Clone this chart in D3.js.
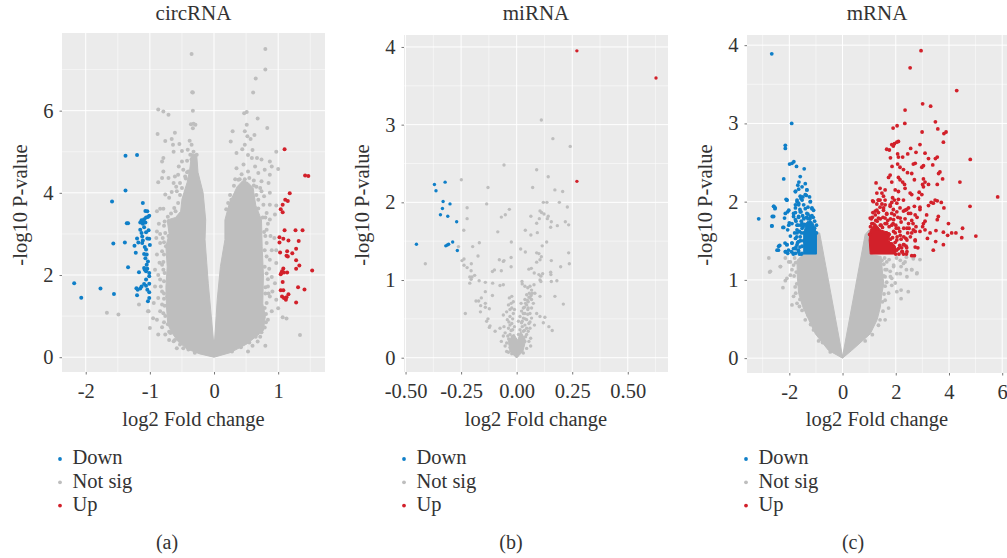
<!DOCTYPE html>
<html>
<head>
<meta charset="utf-8">
<script src="https://cdn.jsdelivr.net/npm/d3@7"></script>
<style>
body { margin: 0; background: #fff; }
svg text { font-family: "Liberation Serif", serif; fill: #333; }
</style>
</head>
<body>
<svg width="1007" height="558"></svg>
<script>
var legendLabels = ["Down", "Not sig", "Up"];

// all values, [log2 fold change, -log10 p]
// the solid grey/blue/red masses hold thousands of overlapping dots, they are kept as outlines
var circDown = [[-2.18,1.80],[-2.07,1.45],[-1.77,1.67],[-1.56,1.54],[-1.59,3.79],[-1.57,2.77],[-1.39,2.79],[-1.38,4.90],[-1.20,4.92],[-1.38,4.06],[-1.36,3.26],[-1.34,3.26],[-1.34,2.19],[-1.17,2.07],[-1.20,1.51],[-1.21,1.68],[-1.19,1.64],[-1.15,1.67],[-1.11,3.75],[-1.07,3.56],[-1.04,3.55],[-1.01,3.44],[-1.03,3.41],[-1.09,3.36],[-1.13,3.33],[-1.15,3.28],[-1.11,3.25],[-1.07,3.28],[-1.15,3.10],[-1.09,3.16],[-1.02,3.09],[-1.06,3.04],[-1.20,2.89],[-1.18,2.79],[-1.12,2.94],[-1.11,2.84],[-1.04,2.89],[-1.01,2.88],[-1.08,2.68],[-1.00,2.73],[-1.24,2.71],[-1.22,2.54],[-1.09,2.51],[-1.05,2.50],[-1.07,2.41],[-1.03,2.33],[-1.05,2.25],[-1.09,2.17],[-1.06,2.09],[-1.01,2.05],[-1.01,1.97],[-1.06,1.89],[-1.01,1.79],[-1.06,1.74],[-1.09,1.78],[-1.13,1.72],[-1.04,1.64],[-1.01,1.58],[-1.01,1.44],[-1.03,1.36],[-1.08,2.13],[-1.13,3.02],[-1.10,3.31],[-1.12,2.78],[-1.06,3.40],[-1.06,2.62],[-1.04,2.15]];
var circUp = [[1.10,5.06],[1.42,4.42],[1.47,4.41],[1.18,3.99],[1.11,3.83],[1.15,3.80],[1.07,3.71],[1.04,3.60],[1.07,3.53],[1.10,3.09],[1.27,3.09],[1.38,3.09],[1.02,2.92],[1.08,2.88],[1.16,2.84],[1.32,2.83],[1.02,2.79],[1.14,2.58],[1.28,2.64],[1.03,2.55],[1.13,2.47],[1.15,2.45],[1.22,2.53],[1.28,2.36],[1.33,2.23],[1.28,2.15],[1.53,2.11],[1.08,2.16],[1.06,2.09],[1.04,2.02],[1.09,2.06],[1.14,2.06],[1.07,1.83],[1.04,1.63],[1.08,1.63],[1.31,1.70],[1.41,1.65],[1.16,1.53],[1.06,1.48],[1.09,1.44],[1.12,1.40],[1.13,1.46],[1.28,1.33],[1.05,2.05]];
var circNotSig = [[-.35,7.38],[.80,7.50],[.80,7.00],[.65,6.78],[.61,6.44],[-.34,6.45],[-.33,6.44],[-.33,6.00],[-.87,6.03],[-.79,5.98],[-.71,5.90],[.51,5.97],[.47,5.94],[.68,5.81],[.83,5.58],[.29,5.50],[.51,5.66],[-.36,5.67],[-.32,5.68],[-.29,5.66],[-.33,5.57],[-.88,5.43],[-.61,5.46],[-.76,5.26],[-.66,5.31],[-.64,5.17],[-.54,5.19],[-.63,5.00],[-.50,5.02],[-.79,4.85],[-.81,4.76],[-.38,5.27],[-.35,5.17],[-.32,5.00],[-.37,4.93],[-.27,4.93],[-.50,4.76],[-.55,4.64],[-.48,4.56],[-.79,4.52],[-.71,4.36],[-.81,4.36],[-.87,4.26],[-.61,4.40],[-.63,4.24],[-.45,4.40],[-.40,4.52],[-.58,4.04],[-.76,3.96],[-.70,3.88],[-.53,4.24],[-.84,3.61],[-.79,3.61],[-.89,3.55],[-.62,3.63],[-.68,3.27],[-.78,3.20],[-.89,3.06],[-.84,3.00],[-.76,3.02],[-.71,2.95],[-.63,3.10],[-.59,4.15],[-.66,4.02],[-.56,4.44],[-.42,4.78],[-.35,4.82],[-.41,5.05],[-.30,4.68],
[.48,5.50],[.63,5.41],[.52,5.38],[.57,5.31],[.26,5.25],[.48,5.17],[.44,5.06],[.35,4.97],[.60,5.04],[.53,4.92],[.97,5.00],[.59,4.85],[.67,4.85],[.74,4.81],[.87,4.76],[.90,4.64],[1.00,4.58],[.46,4.69],[.35,4.60],[.53,4.52],[.64,4.64],[.69,4.48],[.79,4.56],[.87,4.44],[.38,4.32],[.33,4.33],[.55,4.36],[.74,4.28],[.85,4.24],[.74,4.04],[.87,4.00],[.69,3.83],[.77,3.71],[.87,3.71],[.97,3.69],[.22,3.75],[.27,3.83],[.82,3.51],[.87,3.35],[.82,3.10],[.95,3.47],[.43,4.45],[.62,4.30],[.72,4.12],[.78,3.92],[.66,4.15],[.80,3.40],[.84,3.25],
[-.92,2.13],[-.89,2.50],[-.81,2.58],[-.87,2.00],[-.84,1.89],[-.92,1.72],[-.81,1.60],[-.87,1.44],[-.81,1.28],[-.94,1.32],[-1.02,1.12],[-.95,.95],[-.89,.91],[-1.00,.71],[-.81,.73],[-.87,.55],[-.76,.55],[-.58,.22],[-.48,.22],[-.63,.39],[-.68,.59],[-.73,1.48],[-.79,1.07],[-.79,2.13],[-.79,2.32],[-.84,2.78],[-.81,2.25],[-.83,1.72],[-.78,1.85],[-.78,1.42],[-.84,1.12],[-.85,2.30],[-.90,2.90],[-.86,3.25],[-.75,2.70],[-.80,2.90],[-.72,.80],[-.78,.85],[-.70,.42],
[.82,2.78],[.90,2.60],[.97,2.60],[.87,2.37],[.97,2.29],[.82,2.04],[.95,1.80],[.84,1.72],[.87,1.48],[.97,1.40],[.82,1.32],[1.00,1.19],[.90,1.12],[.84,.91],[1.07,.97],[1.13,.94],[.80,.28],[.53,.14],[.86,2.15],[.90,1.95],[.82,2.45],[.85,1.55],[.81,1.05],[.91,1.60],[.88,2.95],[.94,2.90],[.80,2.95],[.84,1.90],[.79,.72],[.68,.38],[.72,.50],[.60,.28],[1.34,.54],[.80,1.55],
[-1.17,1.28],[-1.67,1.08],[-1.49,1.04],[-1.03,1.12],
[-.77,3.30],[-.72,3.42],[-.67,3.50],[-.60,3.55],[-.56,3.75],[-.53,3.95],[-.50,4.12],[-.44,4.35],[-.42,4.50],[-.78,2.50],[-.78,2.80],[-.77,2.05],[-.78,1.55],[-.76,1.00],[-.77,1.25],[-.70,.62],[-.61,.42],[-.53,.31],[-.40,.19],[-.30,.11],
[.28,.14],[.42,.24],[.55,.36],[.65,.50],[.74,.61],[.81,.85],[.79,1.20],[.80,1.70],[.79,2.20],[.79,2.60],[.78,3.05],[.76,3.40],[.69,3.62],[.66,3.95],[.62,4.18],[.48,4.33],[.40,4.33],[.31,4.17],[.25,3.95],[.19,3.60]];
var circMass = [[0,0],[-.22,.08],[-.42,.20],[-.56,.38],[-.66,.60],[-.72,.80],[-.74,1.20],[-.75,1.70],[-.73,2.20],[-.75,2.70],[-.70,3.00],[-.73,3.34],[-.60,3.40],[-.52,3.55],[-.50,3.85],[-.47,4.00],[-.42,4.25],[-.38,4.55],[-.35,4.95],[-.27,4.92],[-.25,4.50],[-.17,4.00],[-.13,3.34],[-.14,2.86],[-.09,1.80],[-.01,.43],[.01,.43],[.05,1.40],[.10,2.21],[.17,2.86],[.17,3.34],[.24,3.75],[.36,4.15],[.45,4.30],[.53,4.25],[.61,4.12],[.65,3.70],[.74,3.34],[.75,2.70],[.77,2.00],[.76,1.30],[.80,1.00],[.77,.65],[.51,.32],[.25,.11]];

var miDown = [[-.451,1.46],[-.370,2.23],[-.363,2.15],[-.322,2.26],[-.331,2.01],[-.300,1.98],[-.334,1.92],[-.343,1.84],[-.310,1.82],[-.270,1.75],[-.288,1.49],[-.319,1.44],[-.312,1.45],[-.306,1.46],[-.267,1.38]];
var miUp = [[.271,3.95],[.627,3.60],[.271,2.27]];
var miNotSig = [[-.411,1.21],[-.249,2.29],[-.129,2.19],[-.135,1.98],[-.223,1.93],[-.223,1.79],[-.238,1.64],[-.262,1.43],[-.057,2.48],[.090,2.42],[.111,3.06],[.163,2.82],[.241,2.72],[.142,2.33],[.072,2.19],[.172,2.16],[.207,2.14],[.192,2.00],[.120,2.00],[.136,2.00],[.228,1.94],[-.033,1.91],[-.069,1.81],[-.051,1.84],[-.085,1.62],[-.168,1.48],[-.198,1.43],[-.174,1.31],[-.237,1.27],[-.246,1.25],[-.237,1.19],[-.223,1.16],[-.204,1.21],[-.205,1.12],[-.189,1.06],[-.201,1.04],[-.211,1.04],[-.205,1.01],[-.211,.96],[-.169,.99],[-.141,.97],[-.108,.96],[-.075,.93],[-.060,.94],[-.109,.80],[-.141,.85],[-.171,.73],[-.183,.73],[-.159,.77],[-.162,.67],[-.141,.70],[-.141,.65],[-.163,.59],[-.123,.63],[-.129,.50],[-.135,.47],[-.120,.41],[-.123,.39],[-.097,.34],[-.231,.57],[-.024,1.49],[-.025,1.29],[-.025,1.17],[-.069,1.12],[-.057,1.25],[-.078,1.26],[-.060,1.24],[-.100,1.13],[-.109,1.11],[.018,1.40],[.039,1.36],[.090,1.35],[.100,1.34],[.111,1.30],[.105,1.26],[.090,1.23],[.156,1.25],[.135,1.49],[.115,1.44],[.234,1.35],[.237,1.21],[.198,1.17],[.153,1.10],[.154,1.07],[.156,.98],[.181,.99],[.172,.79],[.210,.69],[.109,1.05],[.117,1.08],[.100,1.07],[.105,1.00],[.109,.98],[.066,1.15],[.055,1.14],[.079,1.09],[.064,1.82],[.064,1.58],[.039,1.64],[.093,1.61],[.090,1.73],[.105,1.89],[.112,1.87],[.123,1.85],[.102,1.79],[.138,1.79],[.142,1.82],[.156,1.75],[.153,1.68],[.183,1.70],[.219,1.75],[.234,1.71],[.105,.79],[.127,.52],[.120,.45],[.145,.40],[.160,.35],[.024,.98],[.025,.95],[.037,.92],
[.06,.92],[.078,.94],[.067,.87],[.057,.83],[.045,.81],[.07,.83],[.06,.77],[.082,.83],[.037,.75],[.052,.72],[.067,.75],[.045,.68],[.03,.64],[.052,.64],[.067,.64],[.022,.60],[.037,.57],[.06,.57],[.09,.57],[.015,.53],[.03,.51],[.045,.49],[.067,.51],[.105,.53],[.008,.47],[.022,.45],[.037,.42],[.06,.38],[.015,.36],[.03,.34],[.045,.30],[.063,.25],[.008,.30],[.022,.25],[.037,.21],[.063,.15],[.012,.19],[.027,.15],[.045,.12],[.003,.10],[.018,.08],[.03,.06],[.045,.38],[.06,.46],[.02,.70],[.035,.65],[.05,.56],[.075,.70],[.08,.42],[.04,.27],[.055,.21],[.01,.13],[.025,.40],[.03,.22],[.05,.90],[.065,.80],[.055,.78],[.048,.74],[.04,.70],[.03,.57],[.05,.62],[.038,.50],[.025,.47],[.055,.44],[.02,.28],[.035,.35],[.052,.34],
[-.033,.77],[-.022,.79],[-.015,.72],[-.037,.68],[-.022,.64],[-.045,.59],[-.015,.57],[-.03,.53],[-.06,.55],[-.042,.49],[-.022,.44],[-.057,.40],[-.075,.38],[-.037,.38],[-.018,.36],[-.052,.32],[-.03,.30],[-.015,.28],[-.069,.21],[-.045,.19],[-.027,.21],[-.012,.19],[-.052,.15],[-.03,.13],[-.015,.10],[-.037,.07],[-.022,.05],[-.007,.04],[-.045,.08],[-.008,.14],[-.02,.27],[-.01,.40],[-.03,.42],[-.005,.23],[-.012,.06],[0,.02],[-.018,.16],[-.036,.24],[-.06,.28],[-.025,.70],[-.03,.62],[-.018,.50],[-.01,.62],[-.035,.46],[-.025,.35],[-.04,.28],[-.03,.18],[-.025,.10]];
var miMass = [[0,0],[-.03,.08],[-.037,.22],[-.012,.30],[.005,.22],[.018,.34],[.04,.22],[.028,.08]];

var mDown = [[-2.66,3.89],[-1.91,3.00],[-2.15,2.72],[-2.15,2.68],[-1.99,2.48],[-1.90,2.49],[-1.83,2.51],[-1.73,2.45],[-1.44,2.42],[-2.21,2.29],[-1.59,2.32],[-1.64,2.25],[-1.40,2.23],[-1.68,2.21],[-1.34,2.15],[-1.77,2.13],[-1.52,2.19],[-1.65,2.16],[-1.24,2.06],[-1.36,2.08],[-1.49,2.06],[-1.71,2.00],[-1.56,2.04],[-1.65,1.98],[-1.77,1.96],[-2.12,2.03],[-2.09,2.02],[-2.58,1.94],[-2.54,1.91],[-2.06,1.87],[-1.77,1.86],[-1.56,1.87],[-1.40,1.91],[-1.21,2.00],[-1.15,1.91],[-1.09,1.89],[-2.64,1.81],[-2.18,1.79],[-3.15,1.78],[-2.66,1.69],[-2.24,1.67],[-2.00,1.73],[-2.06,1.64],[-1.84,1.81],[-2.36,1.44],[-2.41,1.38],[-2.16,1.47],[-2.09,1.45],[-2.14,1.36],[-2.06,1.34],[-1.90,1.47],[-1.84,1.40],[-1.77,1.34],[-1.71,1.45],[-1.96,1.56],[-1.60,1.90],[-1.75,1.75],[-1.68,1.70],[-1.80,1.60],[-1.72,1.55],[-1.62,1.62],[-1.55,1.75],[-1.50,1.82],[-1.30,1.84],[-1.15,1.82],[-1.30,1.93],[-1.45,1.78],[-1.65,1.80],[-1.58,1.50],[-1.66,1.38],[-1.60,1.42],[-1.68,1.48],[-1.75,1.42],[-1.55,1.33],[-1.62,1.33],[-1.85,1.33],[-2.03,1.38],[-1.92,1.36],[-1.35,1.80],[-1.22,1.78],[-1.10,1.80],[-1.05,1.75],[-1.48,1.68],[-1.55,1.60],
[-1.77,2.13],[-1.34,2.15],[-1.59,2.07],[-1.40,2.09],[-1.71,2.02],[-1.52,2.02],[-1.21,2.00],[-1.65,1.96],[-1.46,1.96],[-1.77,1.92],[-1.15,1.92],[-1.84,1.85],[-1.59,1.87],[-1.34,1.85],[-1.65,1.81],[-1.46,1.79],[-1.21,1.81],[-1.77,1.77],[-1.90,1.72],[-1.71,1.70],[-1.52,1.72],[-2.02,1.70],[-2.21,1.67],[-2.65,1.69],[-2.59,1.81],[-2.53,1.92],[-2.59,1.94],[-2.09,2.02],[-2.02,1.89],[-2.15,1.85],[-2.40,1.43],[-2.46,1.38],[-2.15,1.36],[-2.09,1.45],[-1.90,1.47],[-1.77,1.40],[-1.65,1.49],[-1.52,1.43],[-1.84,1.34],[-1.65,1.36],[-1.71,1.60],[-1.59,1.55],[-1.71,1.64],[-1.77,1.53],[-1.52,1.66],[-1.52,1.34],[-1.46,1.60],[-1.46,1.50],[-1.30,1.78],[-1.05,1.66],[-.98,1.70],[-.98,1.60],[-1.42,1.71],[-1.58,1.70]];
var mUp = [[2.95,3.93],[2.54,3.71],[4.29,3.42],[3.01,3.25],[3.31,3.22],[2.35,3.17],[2.34,3.00],[2.05,2.97],[1.90,2.94],[3.49,3.02],[3.58,2.93],[2.99,2.89],[3.89,2.89],[3.81,2.87],[3.79,2.76],[2.10,2.77],[2.04,2.76],[1.95,2.74],[1.85,2.73],[1.91,2.71],[2.91,2.73],[2.56,2.68],[1.66,2.67],[1.76,2.66],[2.76,2.63],[3.10,2.62],[2.45,2.61],[2.07,2.61],[2.10,2.57],[2.26,2.57],[1.80,2.56],[3.23,2.55],[3.56,2.57],[3.49,2.55],[4.80,2.54],[2.73,2.49],[2.66,2.48],[2.07,2.48],[3.39,2.47],[3.04,2.46],[2.98,2.44],[2.16,2.44],[1.86,2.45],[2.29,2.41],[3.66,2.38],[3.61,2.36],[2.44,2.37],[2.60,2.36],[1.79,2.34],[1.73,2.31],[2.10,2.31],[2.16,2.28],[2.70,2.28],[3.04,2.29],[3.76,2.29],[4.41,2.25],[1.26,2.24],[1.85,2.25],[2.26,2.25],[2.33,2.22],[3.10,2.25],[3.23,2.22],[3.56,2.22],[3.01,2.22],[3.04,2.19],[1.41,2.17],[1.60,2.15],[1.98,2.15],[2.35,2.17],[2.10,2.13],[2.54,2.11],[2.88,2.12],[2.98,2.09],[1.48,2.11],[1.29,2.11],[2.60,2.09],[1.54,2.07],[5.83,2.06],[3.48,2.02],[3.56,2.01],[3.41,1.98],[3.71,1.99],[3.33,1.99],[1.13,2.01],[1.34,2.02],[1.41,2.02],[1.88,2.05],[1.95,2.02],[2.10,2.03],[2.29,2.02],[2.85,2.04],[3.23,1.95],[3.81,1.92],[4.79,1.94],[2.70,1.94],[2.91,1.93],[2.91,1.90],[2.48,1.92],[2.04,1.98],[1.85,1.99],[1.79,1.94],[1.60,1.96],[1.48,1.97],[1.29,1.97],[1.41,1.93],[1.23,1.88],[1.14,1.86],[1.54,1.89],[1.91,1.90],[2.16,1.92],[2.29,1.88],[2.41,1.90],[2.56,1.85],[2.73,1.83],[3.16,1.83],[3.60,1.81],[3.56,1.77],[3.98,1.72],[3.10,1.75],[3.04,1.72],[3.01,1.68],[4.51,1.66],[3.10,1.64],[3.51,1.63],[3.79,1.61],[4.10,1.60],[4.26,1.60],[3.95,1.57],[3.29,1.60],[2.76,1.68],[2.91,1.62],[2.66,1.64],[4.48,1.54],[5.01,1.56],[3.19,1.53],[2.73,1.50],[3.50,1.49],[3.79,1.45],[2.83,1.41],[3.41,1.38],[2.60,1.31],[2.70,1.31],[2.29,1.33],[2.41,1.41],[2.31,1.45],[2.39,1.43],[2.22,1.41],[1.35,1.86],[1.52,1.80],[1.66,1.84],[1.80,1.78],[1.95,1.83],[2.08,1.80],[2.20,1.74],[2.35,1.78],[2.48,1.72],[2.60,1.76],[1.60,1.72],[1.75,1.68],[1.90,1.72],[2.02,1.66],[2.15,1.62],[2.30,1.66],[2.45,1.60],[2.55,1.55],[2.38,1.53],[2.20,1.52],[2.05,1.55],[1.98,1.48],[2.15,1.44],[2.03,1.38],[1.90,1.36],[2.25,1.36],[2.40,1.33],[1.25,1.76],[1.15,1.72],[1.05,1.68],[1.08,1.78],[1.30,1.65],[1.45,1.70],[1.42,1.78],[2.50,1.66],[2.65,1.72],[2.80,1.80],
[1.16,2.00],[1.35,2.02],[1.60,2.02],[1.79,1.96],[1.29,1.89],[1.54,1.92],[1.85,1.85],[2.04,1.87],[2.35,1.89],[1.35,1.79],[1.60,1.79],[1.92,1.77],[2.17,1.79],[2.48,1.85],[1.23,1.83],[1.10,1.72],[1.66,1.72],[1.85,1.70],[2.10,1.66],[2.42,1.66],[2.73,1.62],[1.92,1.62],[2.17,1.57],[2.42,1.51],[2.73,1.51],[2.04,1.51],[2.29,1.45],[2.73,1.42],[2.23,1.36],[2.42,1.36],[1.92,1.43],[2.10,1.40],[1.85,1.36],[1.04,1.79],[1.42,1.70],[1.66,1.85],[2.00,1.70],[1.75,1.58],[1.88,1.54],[2.12,1.33],[2.00,1.33],[1.98,1.60],[1.70,1.76],[2.30,1.55],[2.60,1.60],[1.80,1.52],[1.65,1.60],[1.50,1.67],[1.30,1.75],[1.12,1.80],[1.02,1.58],[1.85,1.46],[1.95,1.40]];
var mNotSig = [[-2.77,1.28],[-2.71,1.11],[-2.34,1.17],[-2.15,1.28],[-1.96,1.23],[-1.90,1.13],[-2.09,1.02],[-2.74,1.10],[-2.15,.99],[-2.24,.90],[-2.33,1.17],[-1.96,1.06],[-1.78,.91],[-1.90,.68],[-1.84,.79],[-1.71,.70],[-1.52,.61],[-1.40,.49],[-1.09,.36],[-.90,.22],[-.46,.08],[-2.02,1.23],[-1.84,1.19],[-1.80,1.28],[-1.82,1.05],[-1.76,.83],[-1.74,1.10],[-1.62,.66],[-1.76,1.22],[-1.72,.95],[-1.60,.75],[-1.30,.55],[-1.20,.43],[-.75,.20],
[1.66,1.23],[1.92,1.19],[2.17,1.25],[2.35,1.23],[2.60,1.13],[2.79,1.08],[1.79,1.11],[1.60,1.13],[2.04,1.08],[1.48,1.25],[1.60,1.04],[1.85,1.02],[2.60,1.13],[2.80,1.09],[2.40,1.13],[2.20,1.17],[2.42,1.04],[2.17,1.08],[2.47,.85],[2.20,.76],[2.20,.87],[2.04,.85],[1.73,.64],[1.73,.83],[1.60,.74],[1.60,.49],[1.41,.49],[1.85,.93],[1.98,.96],[1.92,1.17],[1.66,1.13],[2.29,1.21],[1.80,1.04],[1.60,.92],[1.66,.97],[1.55,1.20],[1.75,1.26],[2.03,1.28],[2.40,1.29],[2.66,1.27],[2.91,1.26],[1.56,.82],[1.50,.72],[1.52,.60],[1.35,.42],[1.12,.30],[.85,.22],[1.55,1.05],[1.58,1.28]];
var mMass = [[0,0],[-.53,.10],[-1.02,.31],[-1.27,.49],[-1.50,.66],[-1.65,.83],[-1.70,1.05],[-1.71,1.25],[-1.50,1.32],[-1.10,1.35],[-.96,1.60],[-.86,1.60],[0,.02],[.85,1.58],[1.00,1.64],[1.10,1.60],[1.10,1.32],[1.45,1.30],[1.50,1.10],[1.55,.95],[1.48,.83],[1.42,.65],[1.30,.49],[1.04,.31],[.35,.10]];
var mDownMass = [[-1.46,1.33],[-.98,1.33],[-.98,1.60],[-1.10,1.72],[-1.21,1.76],[-1.34,1.74],[-1.46,1.60]];
var mUpMass = [[1.04,1.33],[2.00,1.33],[1.98,1.43],[1.73,1.50],[1.78,1.60],[1.42,1.64],[1.23,1.72],[1.04,1.64],[1.00,1.51]];

var legendColor = ["#0f7fc8", "#bebebe", "#d2202a"];
var labelSize = "20.5px";

var svg = d3.select("svg");

// 分别画三个面板
drawPanel({
    title: "circRNA", tag: "(a)", tagX: 167, left: 62, right: 325, top: 33, bottom: 372,
    xDomain: [-2.37, 1.73], yDomain: [-.36, 7.89],
    xTicks: [-2, -1, 0, 1], xMinor: [-1.5, -.5, .5, 1.5], xFormat: "d", r: 2,
    yTicks: [0, 2, 4, 6], yMinor: [1, 3, 5, 7],
    notSig: circNotSig, down: circDown, up: circUp, masses: [[circMass, 1]],
    legendX: 60
});
drawPanel({
    title: "miRNA", tag: "(b)", tagX: 511, left: 404, right: 668, top: 35, bottom: 372,
    xDomain: [-.507, .681], yDomain: [-.184, 4.154],
    xTicks: [-.5, -.25, 0, .25, .5], xMinor: [-.375, -.125, .125, .375, .625], xFormat: ".2f", r: 1.7,
    yTicks: [0, 1, 2, 3, 4], yMinor: [.5, 1.5, 2.5, 3.5],
    notSig: miNotSig, down: miDown, up: miUp, masses: [[miMass, 1]],
    legendX: 404
});
drawPanel({
    title: "mRNA", tag: "(c)", tagX: 853, left: 747, right: 1007, top: 35, bottom: 373,
    xDomain: [-3.59, 6.18], yDomain: [-.19, 4.13],
    xTicks: [-2, 0, 2, 4, 6], xMinor: [-3, -1, 1, 3, 5], xFormat: "d", r: 1.9,
    yTicks: [0, 1, 2, 3, 4], yMinor: [.5, 1.5, 2.5, 3.5],
    notSig: mNotSig, down: mDown, up: mUp, masses: [[mMass, 1], [mDownMass, 0], [mUpMass, 2]],
    legendX: 746
});

function drawPanel(p) {
    var x = d3.scaleLinear().domain(p.xDomain).range([p.left, p.right]);
    var y = d3.scaleLinear().domain(p.yDomain).range([p.bottom, p.top]);
    var g = svg.append("g");

    g.append("rect")
        .attr("x", p.left).attr("y", p.top)
        .attr("width", p.right - p.left).attr("height", p.bottom - p.top)
        .attr("fill", "#ebebeb");

    // 网格线
    g.selectAll(".minorX").data(p.xMinor).enter().append("line")
        .attr("x1", d => x(d)).attr("x2", d => x(d)).attr("y1", p.top).attr("y2", p.bottom)
        .attr("stroke", "#fff").attr("stroke-width", .5);
    g.selectAll(".minorY").data(p.yMinor).enter().append("line")
        .attr("x1", p.left).attr("x2", p.right).attr("y1", d => y(d)).attr("y2", d => y(d))
        .attr("stroke", "#fff").attr("stroke-width", .5);
    g.selectAll(".majorX").data(p.xTicks).enter().append("line")
        .attr("x1", d => x(d)).attr("x2", d => x(d)).attr("y1", p.top).attr("y2", p.bottom)
        .attr("stroke", "#fff").attr("stroke-width", 1);
    g.selectAll(".majorY").data(p.yTicks).enter().append("line")
        .attr("x1", p.left).attr("x2", p.right).attr("y1", d => y(d)).attr("y2", d => y(d))
        .attr("stroke", "#fff").attr("stroke-width", 1);

    // 坐标轴，刻度用普通连字符
    var xFmt = d3.format(p.xFormat);
    var xAxis = g.append("g").attr("transform", "translate(0," + p.bottom + ")")
        .call(d3.axisBottom(x).tickValues(p.xTicks).tickFormat(d => xFmt(d).replace("−", "-")).tickSize(2.5).tickPadding(9));
    var yAxis = g.append("g").attr("transform", "translate(" + p.left + ",0)")
        .call(d3.axisLeft(y).tickValues(p.yTicks).tickFormat(d3.format("d")).tickSize(2.5).tickPadding(6));
    [xAxis, yAxis].forEach(function(a) {
        a.select(".domain").remove();
        a.selectAll(".tick line").attr("stroke", "#777");
        a.selectAll("text").style("font-family", '"Liberation Serif", serif').style("font-size", labelSize).attr("fill", "#333");
    });

    var outline = d3.line().x(d => x(d[0])).y(d => y(d[1])).curve(d3.curveLinearClosed);
    var clip = "clip" + p.tag.charAt(1);
    g.append("clipPath").attr("id", clip).append("rect")
        .attr("x", p.left).attr("y", p.top).attr("width", p.right - p.left).attr("height", p.bottom - p.top);
    var marks = g.append("g").attr("clip-path", "url(#" + clip + ")");

    // 先画灰色，再画上下调的点
    var drawDots = function(data, color) {
        marks.append("g").selectAll("circle").data(data).enter().append("circle")
            .attr("cx", d => x(d[0])).attr("cy", d => y(d[1])).attr("r", p.r).attr("fill", color);
    };
    var drawMass = function(m) {
        marks.append("path").attr("d", outline(m[0]))
            .attr("fill", legendColor[m[1]]).attr("stroke", legendColor[m[1]]).attr("stroke-width", 1).attr("stroke-linejoin", "round");
    };
    drawDots(p.notSig, legendColor[1]);
    p.masses.filter(m => m[1] == 1).forEach(drawMass);
    p.masses.filter(m => m[1] != 1).forEach(drawMass);
    drawDots(p.down, legendColor[0]);
    drawDots(p.up, legendColor[2]);

    var mid = (p.left + p.right) / 2;
    g.append("text").attr("x", mid).attr("y", 20).attr("text-anchor", "middle")
        .style("font-size", "21px").text(p.title);
    g.append("text").attr("x", mid).attr("y", 426).attr("text-anchor", "middle")
        .style("font-size", labelSize).text("log2 Fold change");
    g.append("text").attr("transform", "translate(" + (p.left - 35) + ",205) rotate(-90)")
        .attr("text-anchor", "middle").style("font-size", labelSize).text("-log10 P-value");

    // 图例
    var legend = g.append("g");
    legend.selectAll("circle").data(legendLabels).enter().append("circle")
        .attr("cx", p.legendX).attr("cy", (d, i) => 459 + i * 23.3).attr("r", 1.9)
        .attr("fill", (d, i) => legendColor[i]);
    legend.selectAll("text").data(legendLabels).enter().append("text")
        .attr("x", p.legendX + 12.5).attr("y", (d, i) => 464 + i * 23.6)
        .style("font-size", labelSize).text(d => d);

    g.append("text").attr("x", p.tagX).attr("y", 549).attr("text-anchor", "middle")
        .style("font-size", "20px").text(p.tag);
}
</script>
</body>
</html>
